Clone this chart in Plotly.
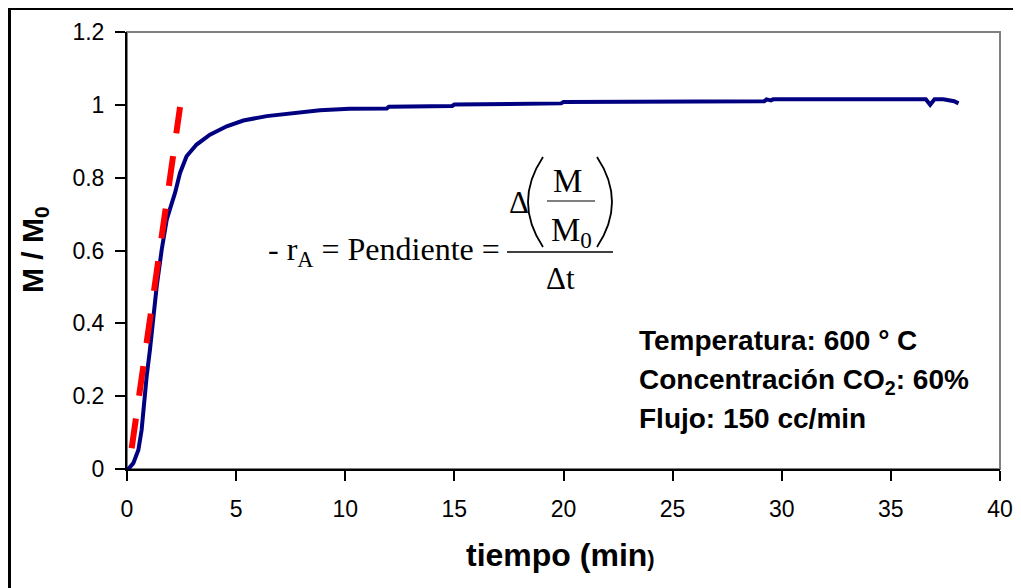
import plotly.graph_objects as go

# ---- data ----
tiempo = [0, 0.06, 0.29, 0.52, 0.67, 0.75, 0.90, 1.05, 1.21, 1.36, 1.59, 1.82, 2.0, 2.2,
          2.43, 2.73, 3.19, 3.80, 4.57, 5.33, 6.40, 7.93, 8.84, 10.2, 11.9, 12.0, 14.9,
          15.0, 19.9, 20.0, 29.2, 29.3, 29.5, 29.6, 29.8, 36.6, 36.8, 37.0, 37.4, 37.6,
          37.9, 38.1]
m_m0 = [0, 0, 0.016, 0.052, 0.107, 0.171, 0.254, 0.327, 0.419, 0.501, 0.602, 0.685, 0.72,
        0.758, 0.813, 0.859, 0.891, 0.918, 0.941, 0.957, 0.969, 0.978, 0.985, 0.989, 0.990,
        0.995, 0.997, 1.001, 1.004, 1.008, 1.010, 1.015, 1.012, 1.015, 1.015, 1.015, 1.000,
        1.015, 1.015, 1.012, 1.010, 1.004]

pend_t = [0.215, 2.43]
pend_y = [0.057, 0.994]

x_ticks = [0, 5, 10, 15, 20, 25, 30, 35, 40]
y_ticks = [0, 0.2, 0.4, 0.6, 0.8, 1.0, 1.2]

# ---- layout geometry (page pixels; page body adds an 8px offset) ----
OFF = 8
L, R, T, B = 127, 1000, 32, 469
W, H = 1021, 588


def xp(px):
    return (px - L) / (R - L)


def yp(py):
    return (B - py) / (B - T)


fig = go.Figure()
fig.add_trace(go.Scatter(x=tiempo, y=m_m0, mode="lines",
                         line=dict(color="#000080", width=4), showlegend=False))
fig.add_trace(go.Scatter(x=pend_t, y=pend_y, mode="lines",
                         line=dict(color="#FF0000", width=6, dash="30px,23px"),
                         showlegend=False))

ARIAL = "Arial, Liberation Sans, sans-serif"
TIMES = "Times New Roman, Liberation Serif, serif"

fig.update_layout(
    width=W, height=H, autosize=False,
    margin=dict(l=L - OFF, r=W - (R - OFF), t=T - OFF, b=H - (B - OFF), pad=0),
    paper_bgcolor="white", plot_bgcolor="white",
    font=dict(family=ARIAL, color="black"),
    xaxis=dict(range=[0, 40], tickvals=x_ticks, showgrid=False, zeroline=False,
               showline=True, linecolor="black", linewidth=2,
               ticks="outside", ticklen=10, tickwidth=2, tickcolor="black",
               tickfont=dict(size=23, family=ARIAL), ticklabelstandoff=8),
    yaxis=dict(range=[0, 1.2], tickvals=y_ticks, showgrid=False, zeroline=False,
               showline=True, linecolor="black", linewidth=2,
               ticks="outside", ticklen=10, tickwidth=2, tickcolor="black",
               tickfont=dict(size=23, family=ARIAL), ticklabelstandoff=6),
)

shapes = [
    # grey plot frame
    dict(type="rect", xref="paper", yref="paper", x0=0, x1=1, y0=0, y1=1,
         line=dict(color="#808080", width=2), layer="below"),
    # outer black border
    dict(type="rect", xref="paper", yref="paper", x0=xp(9.5), x1=xp(1040),
         y0=yp(610), y1=yp(8.5), line=dict(color="black", width=3)),
    # main fraction bar
    dict(type="line", xref="paper", yref="paper", x0=xp(507), x1=xp(613),
         y0=yp(252), y1=yp(252), line=dict(color="black", width=1.5)),
    # inner fraction bar
    dict(type="line", xref="paper", yref="paper", x0=xp(547), x1=xp(595),
         y0=yp(201), y1=yp(201), line=dict(color="black", width=1.2)),
]


def paren(x_end, x_mid, y_top, y_bot):
    xm = 2 * x_mid - x_end
    ym = (y_top + y_bot) / 2
    return dict(type="path", xref="paper", yref="paper",
                path=f"M {xp(x_end)},{yp(y_top)} Q {xp(xm)},{yp(ym)} {xp(x_end)},{yp(y_bot)}",
                line=dict(color="black", width=1.8))


shapes.append(paren(543, 528, 157, 247))
shapes.append(paren(597, 612, 157, 247))
fig.update_layout(shapes=shapes)

ann = []


def add(text, px, py, size, family=ARIAL, xanchor="center", yanchor="middle", angle=0):
    ann.append(dict(text=text, x=xp(px), y=yp(py), xref="paper", yref="paper",
                    showarrow=False, xanchor=xanchor, yanchor=yanchor, textangle=angle,
                    font=dict(size=size, family=family, color="black")))


# axis titles
add("<b>M / M<sub>0</sub></b>", 35, 250, 30, angle=-90)
add("<b>tiempo (min<span style='font-size:22px'>)</span></b>", 560, 555, 32)

# equation
add("- r<sub>A</sub> = Pendiente =", 502, 252, 32, family=TIMES, xanchor="right")
add("Δt", 560, 278, 31, family=TIMES)
add("Δ", 519, 203, 31, family=TIMES)
add("M", 567, 181, 33, family=TIMES)
add("M<sub>0</sub>", 571, 232, 33, family=TIMES)

# conditions
add("<b>Temperatura: 600 ° C</b>", 637, 340, 28, xanchor="left")
add("<b>Concentración CO<sub>2</sub>: 60%</b>", 637, 381, 28, xanchor="left")
add("<b>Flujo: 150 cc/min</b>", 637, 418, 28, xanchor="left")

fig.update_layout(annotations=ann)
fig.write_html("out.html")
